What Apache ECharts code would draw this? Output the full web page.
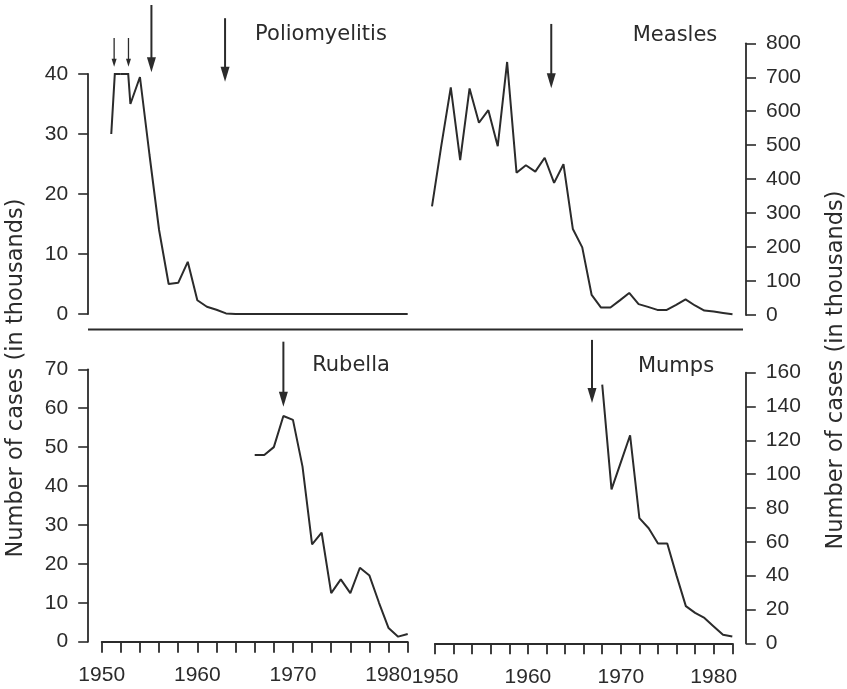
<!DOCTYPE html>
<html><head><meta charset="utf-8">
<script src="https://cdn.jsdelivr.net/npm/echarts@6/dist/echarts.min.js"></script>
<style>html,body{margin:0;padding:0;background:#fff}#c{width:847px;height:689px}</style>
</head><body><div id="c"></div>
<script>
// ---- data (thousands of cases, USA) ----
const years = [];
for (let y = 1950; y <= 1982; y++) years.push(y);
const polio = [null, 30, 57, 35, 39.5, 26.5, 14, 5, 5.2, 8.7, 2.3, 1.2, 0.7, 0.1,
  0, 0, 0, 0, 0, 0, 0, 0, 0, 0, 0, 0, 0, 0, 0, 0, 0, 0, 0];
const measles = [320, 500, 670, 456, 667, 566, 603, 497, 745, 419, 441, 422, 463, 389, 444,
  253, 199, 59, 22, 22, 43, 65, 32, 24, 15, 15, 30, 46, 28, 13, 10, 6, 2];
const rubella = [null, null, null, null, null, null, null, null, null, null, null, null, null, null, null, null,
  48, 48, 50, 58, 57, 45, 25, 28, 12.5, 16, 12.5, 19, 17, 10, 3.5, 1.3, 2];
const mumps = [null, null, null, null, null, null, null, null, null, null, null, null, null, null, null, null, null, null,
  153, 91, 107, 123, 74, 68, 59, 59, 40, 22, 18, 15, 10, 5, 4];
const diseases = ['Poliomyelitis', 'Measles', 'Rubella', 'Mumps'];
const yTicksPolio = [0, 10, 20, 30, 40];
const yTicksMeasles = [0, 100, 200, 300, 400, 500, 600, 700, 800];
const yTicksRubella = [0, 10, 20, 30, 40, 50, 60, 70];
const yTicksMumps = [0, 20, 40, 60, 80, 100, 120, 140, 160];
const xTickLabels = [1950, 1960, 1970, 1980];
// vaccine introduction arrows (years)
const polioArrowYears = [1951.3, 1952.8, 1955.2, 1962.9];
const measlesArrowYears = [1962.7];
const rubellaArrowYears = [1969];
const mumpsArrowYears = [1966.9];

// ---- styling / layout ----
const ink = '#2b2b2b';
const axisFont = 'Liberation Sans';
const textFont = 'DejaVu Sans';
const pairs = arr => years.map((y, i) => [y, arr[i]]).filter(p => p[1] !== null);

const grids = [
  {left: 101.7, top: 74, width: 306, height: 240},
  {left: 432, top: 43.3, width: 300.5, height: 271.7},
  {left: 101.7, top: 369.3, width: 306, height: 272.4},
  {left: 435, top: 372.7, width: 297.3, height: 270.6}
];
function xAx(i, show) {
  return {
    type: 'value', gridIndex: i, min: 1950, max: 1982, interval: 2, show: show, offset: 1.5,
    axisLine: {show: true, lineStyle: {color: ink, width: 1.8}},
    axisTick: {show: true, inside: false, interval: 0, length: 11, lineStyle: {color: ink, width: 1.8}},
    splitLine: {show: false},
    axisLabel: {
      margin: 22, color: ink, fontFamily: axisFont, fontSize: 21, hideOverlap: false,
      formatter: v => (xTickLabels.indexOf(v) >= 0 ? String(v) : '')
    }
  };
}
function yAx(i, ticks, pos) {
  return {
    type: 'value', gridIndex: i, position: pos, offset: 13.5,
    min: ticks[0], max: ticks[ticks.length - 1], interval: ticks[1] - ticks[0],
    axisLine: {show: true, lineStyle: {color: ink, width: 1.8}},
    axisTick: {show: true, inside: false, length: 10, lineStyle: {color: ink, width: 1.6}},
    splitLine: {show: false},
    axisLabel: {margin: 20, color: ink, fontFamily: axisFont, fontSize: 21}
  };
}
function lineSeries(name, i, arr) {
  return {
    name: name, type: 'line', xAxisIndex: i, yAxisIndex: i, data: pairs(arr),
    showSymbol: false, symbol: 'none', clip: true, connectNulls: false,
    lineStyle: {color: ink, width: 2}, animation: false
  };
}

const option = {
  backgroundColor: '#fff',
  animation: false,
  grid: grids,
  xAxis: [xAx(0, false), xAx(1, false), xAx(2, true), xAx(3, true)],
  yAxis: [yAx(0, yTicksPolio, 'left'), yAx(1, yTicksMeasles, 'right'),
          yAx(2, yTicksRubella, 'left'), yAx(3, yTicksMumps, 'right')],
  series: [
    lineSeries(diseases[0], 0, polio),
    // off-scale values are drawn capped along the top of the panel
    {
      name: diseases[0] + ' (off scale)', type: 'custom', xAxisIndex: 0, yAxisIndex: 0,
      data: [[1950, 0]], clip: false, silent: true, animation: false,
      renderItem: function (params, api) {
        const cap = yTicksPolio[yTicksPolio.length - 1];
        const kids = [];
        for (let i = 0; i < years.length - 1; i++) {
          const a = polio[i], b = polio[i + 1];
          if (a === null || b === null) continue;
          if (a <= cap && b <= cap) continue;
          const t0 = a > cap ? 0 : (cap - a) / (b - a);
          const t1 = b > cap ? 1 : (a - cap) / (a - b);
          const p0 = api.coord([years[i] + t0 * (years[i + 1] - years[i]), cap]);
          const p1 = api.coord([years[i] + t1 * (years[i + 1] - years[i]), cap]);
          kids.push({type: 'line', shape: {x1: p0[0], y1: p0[1], x2: p1[0], y2: p1[1]},
            style: {stroke: ink, lineWidth: 2}});
        }
        return {type: 'group', children: kids};
      }
    },
    lineSeries(diseases[1], 1, measles),
    lineSeries(diseases[2], 2, rubella),
    lineSeries(diseases[3], 3, mumps)
  ]
};

const chart = echarts.init(document.getElementById('c'), null, {renderer: 'canvas'});
chart.setOption(option);

function px(g, x, y) { return chart.convertToPixel({xAxisIndex: g, yAxisIndex: g}, [x, y]); }
function arrow(g, year, top, tip, big) {
  const a = px(g, year, top), b = px(g, year, tip);
  const hw = big ? 4.5 : 2.5, hl = big ? 15 : 8, lw = big ? 2 : 1.3;
  return [
    {type: 'line', silent: true, shape: {x1: a[0], y1: a[1], x2: b[0], y2: b[1] - hl + 1}, style: {stroke: ink, lineWidth: lw}},
    {type: 'polygon', silent: true, shape: {points: [[b[0] - hw, b[1] - hl], [b[0] + hw, b[1] - hl], [b[0], b[1]]]}, style: {fill: ink}}
  ];
}
function label(txt, x, y, size, rot) {
  return {type: 'text', x: x, y: y, rotation: rot || 0, silent: true,
    style: {text: txt, fill: ink, font: size + 'px "' + textFont + '"',
      align: 'center', verticalAlign: 'middle', textAlign: 'center', textVerticalAlign: 'middle'}};
}

const g = [];
// separator between the upper and lower panels
const sepL = px(0, 1950, 0)[0] - 13.7, sepR = px(1, 1982, 0)[0] + 10.5;
g.push({type: 'line', silent: true, shape: {x1: sepL, y1: 329.5, x2: sepR, y2: 329.5}, style: {stroke: ink, lineWidth: 1.8}});
// arrows
g.push(...arrow(0, polioArrowYears[0], 46, 41.2, false));
g.push(...arrow(0, polioArrowYears[1], 46, 41.2, false));
g.push(...arrow(0, polioArrowYears[2], 51.5, 40.3, true));
g.push(...arrow(0, polioArrowYears[3], 49.3, 38.7, true));
g.push(...arrow(1, measlesArrowYears[0], 857, 668, true));
g.push(...arrow(2, rubellaArrowYears[0], 77.1, 60.4, true));
g.push(...arrow(3, mumpsArrowYears[0], 179.4, 142.1, true));
// panel titles
g.push(label(diseases[0], 321, 35, 21));
g.push(label(diseases[1], 675, 36, 21));
g.push(label(diseases[2], 351, 366, 21));
g.push(label(diseases[3], 676, 367, 21));
// axis names
g.push(label('Number of cases (in thousands)', 16.5, 378, 22.5, Math.PI / 2));
g.push(label('Number of cases (in thousands)', 836, 370, 22.5, Math.PI / 2));
chart.setOption({graphic: g});
</script>
</body></html>
